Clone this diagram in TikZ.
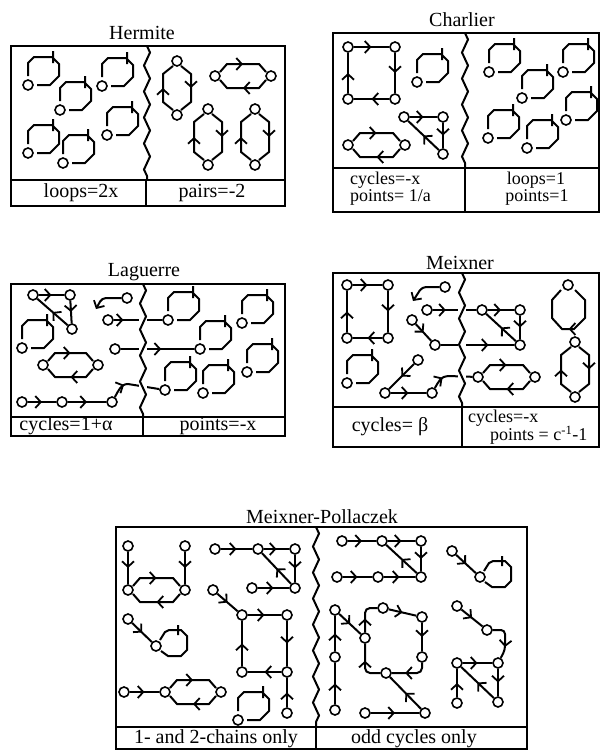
\documentclass[tikz,border=0pt]{standalone}
\usepackage{fontspec}
\setmainfont{Liberation Serif}
\usetikzlibrary{calc,arrows.meta,decorations.markings,decorations.pathmorphing}
\tikzset{
  pt/.style={circle,draw,line width=1.6pt,minimum size=10pt,inner sep=0pt},
  ln/.style={line width=2pt},
  marr/.style={postaction={decorate},decoration={markings,mark=at position #1 with {\arrow{Straight Barb[length=5.5pt,width=12pt,line width=1.8pt]}}}},
  marr/.default=0.5,
  tipend/.style={-{Straight Barb[length=5.5pt,width=12pt,line width=1.8pt]}},
  bx/.style={line width=2.2pt},
  lab/.style={font=\fontsize{20}{20}\selectfont, inner sep=0pt},
  lab2/.style={font=\fontsize{18}{18}\selectfont, inner sep=0pt},
  ttl/.style={font=\fontsize{20}{20}\selectfont, inner sep=0pt},
}
\newcommand\pnt[3]{\node[pt] (#1) at (#2,#3) {};}
\newcommand\ed[3][0.5]{\draw[ln,marr=#1] (#2) -- (#3);}
\newcommand\lpA[3]{\pnt{#1}{#2}{#3}\draw[ln,shift={(#2,#3)}] (0,-9) -- (0,-22) -- (6,-28) -- (24,-28) -- (31,-21) -- (31,-9) -- (22,0) -- (9,0) (25,-34) -- (25,-22);}
\newcommand\lpB[3]{\pnt{#1}{#2}{#3}\draw[ln,shift={(#2,#3)}] (4,-6) -- (9,-14) -- (13,-16) -- (25,-16) -- (31,-10) -- (31,4) -- (25,10) -- (12,10) -- (5,5) (22,-21) -- (22,-11);}
\newcommand\lpD[3]{\pnt{#1}{#2}{#3}\draw[ln,marr,shift={(#2,#3)}] (7,5) -- (17,15) -- (17,33) -- (6,44) -- (-6,44) -- (-16,33) -- (-16,15) -- (-7,5);}
\newcommand\hpair[2]{%
  \draw[ln,marr] ($(#1)+(5,-4)$) -- ($(#1)+(12,-12)$) -- ($(#2)+(-12,-12)$) -- ($(#2)+(-5,-4)$);
  \draw[ln,marr] ($(#2)+(-5,4)$) -- ($(#2)+(-12,12)$) -- ($(#1)+(12,12)$) -- ($(#1)+(5,4)$);}
\newcommand\vpair[2]{%
  \draw[ln,marr] ($(#2)+(-4,-5)$) -- ($(#2)+(-14,-13)$) -- ($(#1)+(-14,13)$) -- ($(#1)+(-4,5)$);
  \draw[ln,marr] ($(#1)+(4,5)$) -- ($(#1)+(14,13)$) -- ($(#2)+(14,-13)$) -- ($(#2)+(4,-5)$);}
\newcommand\wavy[3]{\draw[white,line width=8pt] (#1,#2) -- (#1,#3);
  \draw[ln,decorate,decoration={zigzag,segment length=26pt,amplitude=3pt}] (#1,#2) -- (#1,#3);}
\begin{document}
\begin{tikzpicture}[x=1pt,y=-1pt]
\useasboundingbox (0,0) rectangle (601,750);
% ================= Hermite
\node[ttl] (tH) at (142,33) {Hermite};
\lpA{h1}{28}{85}\lpA{h2}{102}{86}\lpA{h3}{60}{110}
\lpA{h4}{107}{135}\lpA{h5}{28}{153}\lpA{h6}{63}{163}
\pnt{ha}{177}{61}\pnt{hb}{177}{115}\vpair{ha}{hb}
\pnt{hc}{215}{76}\pnt{hd}{271}{76}\hpair{hc}{hd}
\pnt{he}{208}{109}\pnt{hf}{208}{165}\vpair{he}{hf}
\pnt{hg}{255}{109}\pnt{hh}{255}{165}\vpair{hg}{hh}
\wavy{147}{46}{180}
\draw[bx] (11,46) rectangle (285,206);
\draw[bx] (11,180) -- (285,180) (146,180) -- (146,206);
\node[lab] at (81,193) {loops=2x};
\node[lab] at (212,193) {pairs=-2};
% ================= Charlier
\node[ttl] (tC) at (462,20) {Charlier};
\pnt{c1}{348}{47}\pnt{c2}{395}{47}\pnt{c3}{395}{99}\pnt{c4}{348}{99}
\ed{c1}{c2}\ed{c2}{c3}\ed{c3}{c4}\ed{c4}{c1}
\lpA{c5}{417}{82}
\pnt{c6}{404}{117}\pnt{c7}{443}{117}\pnt{c8}{443}{154}
\ed{c6}{c7}\ed{c7}{c8}\ed{c8}{c6}
\pnt{c9}{348}{145}\pnt{c10}{405}{145}\hpair{c9}{c10}
\lpA{c11}{489}{72}\lpA{c12}{563}{72}\lpA{c13}{522}{98}
\lpA{c14}{566}{120}\lpA{c15}{488}{138}\lpA{c16}{527}{148}
\wavy{465}{33}{168}
\draw[bx] (333,33) rectangle (599,212);
\draw[bx] (333,168) -- (599,168) (465,168) -- (465,212);
\node[lab2,anchor=west] at (350,180) {cycles=-x};
\node[lab2,anchor=west] at (350,197) {points= 1/a};
\node[lab2] at (536,180) {loops=1};
\node[lab2] at (537,197) {points=1};
% ================= Laguerre
\node[ttl] (tL) at (144,272) {Laguerre};
\pnt{l1}{33}{295}\pnt{l2}{70}{295}\pnt{l3}{72}{329}
\ed{l1}{l2}\ed{l2}{l3}\ed{l3}{l1}
\pnt{l4}{127}{298}\coordinate (l4e) at (96,309);
\draw[ln,tipend,rounded corners=4pt] (l4) -- (102,298) -- (l4e);
\pnt{l5}{108}{320}\lpA{l6}{168}{320}\ed[0.2]{l5}{l6}
\lpA{l7}{22}{348}
\pnt{l8}{115}{349}\lpA{l9}{200}{349}\ed[0.55]{l8}{l9}
\pnt{l10}{43}{365}\pnt{l11}{98}{365}\hpair{l10}{l11}
\pnt{l12}{22}{402}\pnt{l13}{62}{402}\pnt{l14}{112}{402}
\ed{l12}{l13}\ed{l13}{l14}
\lpA{l15}{165}{390}
\draw[ln,marr=0.3] (l14) to[out=60,in=180] (128,384) -- (l15);
\lpA{l16}{242}{323}\lpA{l17}{247}{372}\lpA{l18}{203}{393}
\wavy{143}{284}{417}
\draw[bx] (11,284) rectangle (285,436);
\draw[bx] (11,417) -- (285,417) (143,417) -- (143,436);
\node[lab] at (66,426) {cycles=1+α};
\node[lab] at (218,426) {points=-x};
% ================= Meixner
\node[ttl] (tM) at (460,263) {Meixner};
\pnt{m1}{347}{285}\pnt{m2}{388}{285}\pnt{m3}{388}{338}\pnt{m4}{347}{338}
\ed{m1}{m2}\ed{m2}{m3}\ed{m3}{m4}\ed{m4}{m1}
\pnt{m5}{445}{287}\coordinate (m5e) at (413,301);
\draw[ln,tipend,rounded corners=4pt] (m5) -- (422,287) -- (m5e);
\pnt{m6}{427}{310}\pnt{m7}{482}{310}\ed[0.3]{m6}{m7}
\pnt{m8}{412}{320}\pnt{m9}{435}{345}\ed{m8}{m9}
\pnt{m10}{520}{310}\pnt{m11}{520}{345}\ed[0.65]{m9}{m11}
\ed{m7}{m10}\ed{m10}{m11}\ed{m11}{m7}
\lpA{m12}{347}{383}
\pnt{m13}{418}{360}\pnt{m14}{385}{393}\pnt{m15}{432}{393}
\ed{m13}{m14}\ed{m14}{m15}
\pnt{m16}{478}{377}\pnt{m17}{535}{377}
\draw[ln,marr=0.3] (m15) to[out=60,in=180] (448,376) -- (m16);
\hpair{m16}{m17}
\lpD{m18}{568}{285}
\pnt{m19}{575}{342}\pnt{m20}{575}{397}\vpair{m19}{m20}
\wavy{462}{273}{407}
\draw[bx] (333,273) rectangle (599,447);
\draw[bx] (333,407) -- (599,407) (462,407) -- (462,447);
\node[lab] at (390,427) {cycles= β};
\node[lab2,anchor=west] at (468,418) {cycles=-x};
\node[lab2,anchor=west] at (490,435) {points = c\textsuperscript{-1}-1};
% ================= Meixner-Pollaczek
\node[ttl] (tP) at (322,517) {Meixner-Pollaczek};
\pnt{p1}{128}{546}\pnt{p2}{185}{546}\pnt{p3}{128}{590}\pnt{p4}{185}{590}
\ed{p1}{p3}\ed{p2}{p4}\hpair{p3}{p4}
\pnt{p5}{128}{619}\lpB{p6}{156}{646}\ed{p5}{p6}
\pnt{p7}{124}{692}\pnt{p8}{165}{692}\pnt{p9}{221}{692}
\ed{p7}{p8}\hpair{p8}{p9}
\pnt{p10}{215}{549}\pnt{p11}{258}{549}\pnt{p12}{295}{549}\pnt{p13}{295}{588}\pnt{p14}{252}{588}
\ed{p10}{p11}\ed{p11}{p12}\ed{p12}{p13}\ed{p13}{p11}\ed{p14}{p13}
\pnt{p15}{213}{590}\pnt{p16}{242}{615}\pnt{p17}{287}{615}\pnt{p18}{287}{672}\pnt{p19}{242}{672}
\ed{p15}{p16}\ed{p16}{p17}\ed{p17}{p18}\ed{p18}{p19}\ed{p19}{p16}
\lpA{p20}{238}{720}
\pnt{p21}{287}{713}\ed{p21}{p18}
% right half
\pnt{q1}{342}{541}\pnt{q2}{382}{541}\pnt{q3}{421}{541}\pnt{q4}{421}{577}\pnt{q5}{337}{577}\pnt{q6}{378}{577}
\ed{q1}{q2}\ed{q2}{q3}\ed{q3}{q4}\ed{q4}{q2}\ed{q5}{q6}\ed{q6}{q4}
\pnt{q7}{335}{610}\pnt{q8}{335}{657}\pnt{q9}{335}{710}
\ed{q9}{q8}\ed{q8}{q7}
\pnt{q10}{365}{638}\pnt{q11}{383}{608}\pnt{q12}{422}{617}\pnt{q13}{422}{657}\pnt{q14}{386}{673}
\ed{q7}{q10}
\draw[ln,marr=0.4,rounded corners=5pt] (q10) |- (q11);
\ed{q11}{q12}\ed{q12}{q13}
\draw[ln,marr=0.65,rounded corners=5pt] (q13) |- (q14);
\draw[ln,marr=0.6,rounded corners=5pt] (q14) -| (q10);
\pnt{q15}{425}{713}\pnt{q16}{365}{713}
\ed{q15}{q14}\ed{q16}{q15}
\pnt{q17}{452}{551}\lpB{q18}{480}{577}\ed{q17}{q18}
\pnt{q19}{457}{606}\pnt{q20}{487}{630}\ed{q19}{q20}
\pnt{q21}{457}{663}\pnt{q22}{498}{663}\pnt{q23}{498}{702}\pnt{q24}{457}{703}
\draw[ln,marr=0.7,rounded corners=4pt] (q20) -- (505,630) -- (505,650) -- (q22);
\ed{q21}{q22}\ed{q22}{q23}\ed{q23}{q21}\ed{q24}{q21}
\wavy{316}{527}{727}
\draw[bx] (116,527) rectangle (527,749);
\draw[bx] (116,727) -- (527,727) (316,727) -- (316,749);
\node[lab] at (216,739) {1- and 2-chains only};
\node[lab] at (414,739) {odd cycles only};
\end{tikzpicture}
\end{document}
